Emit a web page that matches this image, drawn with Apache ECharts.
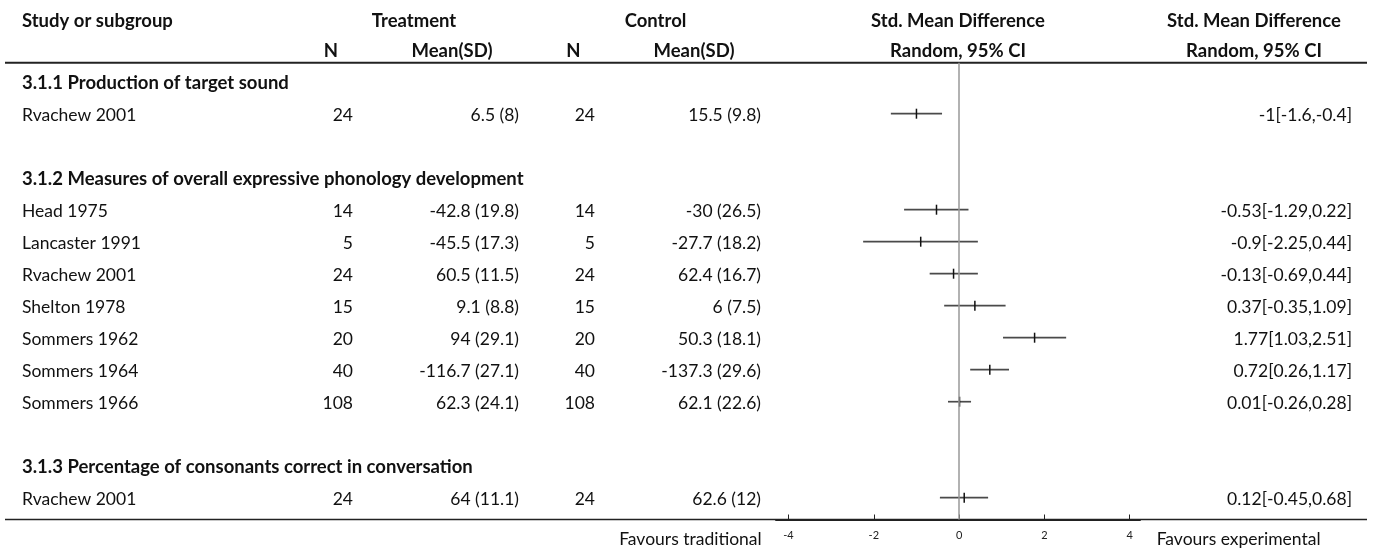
<!DOCTYPE html>
<html>
<head>
<meta charset="utf-8">
<script src="https://cdn.jsdelivr.net/npm/echarts@6/dist/echarts.min.js"></script>
<style>
html,body{margin:0;padding:0;background:#fff;}
#chart{width:1373px;height:550px;}
</style>
</head>
<body>
<div id="chart"></div>
<script>
// ---------- data ----------
const subgroups = [
  "3.1.1 Production of target sound",
  "3.1.2 Measures of overall expressive phonology development",
  "3.1.3 Percentage of consonants correct in conversation"
];
const studies = ["Rvachew 2001","Head 1975","Lancaster 1991","Rvachew 2001","Shelton 1978","Sommers 1962","Sommers 1964","Sommers 1966","Rvachew 2001"];
const subgroupIndex = [0,1,1,1,1,1,1,1,2];
const treatN = [24,14,5,24,15,20,40,108,24];
const treatMean = [6.5,-42.8,-45.5,60.5,9.1,94,-116.7,62.3,64];
const treatSD = [8,19.8,17.3,11.5,8.8,29.1,27.1,24.1,11.1];
const ctrlN = [24,14,5,24,15,20,40,108,24];
const ctrlMean = [15.5,-30,-27.7,62.4,6,50.3,-137.3,62.1,62.6];
const ctrlSD = [9.8,26.5,18.2,16.7,7.5,18.1,29.6,22.6,12];
const smd = [-1,-0.53,-0.9,-0.13,0.37,1.77,0.72,0.01,0.12];
const ciLow = [-1.6,-1.29,-2.25,-0.69,-0.35,1.03,0.26,-0.26,-0.45];
const ciHigh = [-0.4,0.22,0.44,0.44,1.09,2.51,1.17,0.28,0.68];
const xTicks = [-4,-2,0,2,4];
const headerTop = ["Study or subgroup","Treatment","Control","Std. Mean Difference","Std. Mean Difference"];
const headerSub = ["N","Mean(SD)","N","Mean(SD)","Random, 95% CI","Random, 95% CI"];
const favours = ["Favours traditional","Favours experimental"];

// ---------- layout ----------
const FONT = 'Lato';
const FS = 17.5;
const FSB = 18.5;
const TXT = '#111';
const TEXT_DY = 1.5;
const col = {
  study: 22,
  tN: 353, tM: 519, cN: 595, cM: 761, ci: 1352,
  hTN: 331, hTM: 452, hCN: 573.5, hCM: 694, hPlot: 958, hCI: 1254,
  hTreat: 414, hCtrl: 655.5
};
const headerY1 = 21, headerY2 = 51;
const lineTop = 62.7, lineBottom = 519.5;
const gridLeft = 776, gridRight = 1140;

// build table rows from subgroups
const rows = [];
subgroups.forEach((g, gi) => {
  rows.push({type: 'heading', text: g});
  studies.forEach((s, i) => { if (subgroupIndex[i] === gi) rows.push({type: 'study', i: i}); });
  if (gi < subgroups.length - 1) rows.push({type: 'blank'});
});
const rowCenterFirst = 81.7, rowStep = 32;
const yMin = (lineTop - rowCenterFirst) / rowStep;
const yMax = (lineBottom - rowCenterFirst) / rowStep;
const pxPerUnit = (1129.7 - 788.5) / 8;
const xMin = -4 - (788.5 - gridLeft) / pxPerUnit;
const xMax = xMin + (gridRight - gridLeft) / pxPerUnit;

const ciData = [];
rows.forEach((r, k) => {
  if (r.type === 'study') ciData.push([ciLow[r.i], ciHigh[r.i], smd[r.i], k]);
});

function txt(x, y, text, align, bold) {
  return {
    type: 'text',
    style: {
      x: x, y: y, text: text, fill: TXT, align: align, verticalAlign: 'middle',
      font: (bold ? 'bold ' + FSB : FS) + 'px ' + FONT
    }
  };
}

const chart = echarts.init(document.getElementById('chart'), null, {renderer: 'canvas'});
const option = {
  backgroundColor: '#fff',
  animation: false,
  textStyle: {fontFamily: FONT},
  grid: {left: gridLeft, width: gridRight - gridLeft, top: lineTop, height: lineBottom - lineTop},
  xAxis: {
    type: 'value', min: xMin, max: xMax, position: 'bottom',
    axisLine: {show: true, onZero: false, lineStyle: {color: '#222', width: 2}},
    axisTick: {show: true, inside: true, length: 5, customValues: xTicks, lineStyle: {color: '#222', width: 1}},
    axisLabel: {show: true, customValues: xTicks, fontSize: 11, color: '#222', margin: 10, fontFamily: FONT},
    splitLine: {show: false}
  },
  yAxis: {type: 'value', inverse: true, min: yMin, max: yMax, show: false},
  graphic: [
    {type: 'line', shape: {x1: 5, y1: lineTop, x2: 1367, y2: lineTop}, style: {stroke: '#222', lineWidth: 2}, z: 1},
    {type: 'line', shape: {x1: 5, y1: lineBottom, x2: 1367, y2: lineBottom}, style: {stroke: '#222', lineWidth: 1.5}, z: 1},
    txt(col.study, headerY1, headerTop[0], 'left', true),
    txt(col.hTreat, headerY1, headerTop[1], 'center', true),
    txt(col.hCtrl, headerY1, headerTop[2], 'center', true),
    txt(col.hPlot, headerY1, headerTop[3], 'center', true),
    txt(col.hCI, headerY1, headerTop[4], 'center', true),
    txt(col.hTN, headerY2, headerSub[0], 'center', true),
    txt(col.hTM, headerY2, headerSub[1], 'center', true),
    txt(col.hCN, headerY2, headerSub[2], 'center', true),
    txt(col.hCM, headerY2, headerSub[3], 'center', true),
    txt(col.hPlot, headerY2, headerSub[4], 'center', true),
    txt(col.hCI, headerY2, headerSub[5], 'center', true),
    txt(761.7, 539, favours[0], 'right', false),
    txt(1156.7, 539, favours[1], 'left', false)
  ],
  series: [
    {
      type: 'custom',
      clip: false,
      silent: true,
      data: rows.map((r, k) => [0, k]),
      renderItem: function (params, api) {
        const k = api.value(1);
        const y = api.coord([0, k])[1] + TEXT_DY;
        const r = rows[k];
        if (r.type === 'heading') {
          return {type: 'group', children: [txt(col.study, y, r.text, 'left', true)]};
        }
        if (r.type === 'study') {
          const i = r.i;
          return {type: 'group', children: [
            txt(col.study, y, studies[i], 'left', false),
            txt(col.tN, y, String(treatN[i]), 'right', false),
            txt(col.tM, y, treatMean[i] + ' (' + treatSD[i] + ')', 'right', false),
            txt(col.cN, y, String(ctrlN[i]), 'right', false),
            txt(col.cM, y, ctrlMean[i] + ' (' + ctrlSD[i] + ')', 'right', false),
            txt(col.ci, y, smd[i] + '[' + ciLow[i] + ',' + ciHigh[i] + ']', 'right', false)
          ]};
        }
        return {type: 'group', children: []};
      }
    },
    {
      type: 'custom',
      clip: false,
      silent: true,
      data: ciData,
      renderItem: function (params, api) {
        const row = api.value(3);
        const p1 = api.coord([api.value(0), row]);
        const p2 = api.coord([api.value(1), row]);
        const pe = api.coord([api.value(2), row]);
        return {type: 'group', children: [
          {type: 'line', shape: {x1: p1[0], y1: p1[1], x2: p2[0], y2: p2[1]}, style: {stroke: '#4a4a4a', lineWidth: 1.7}},
          {type: 'line', shape: {x1: pe[0], y1: pe[1] - 5, x2: pe[0], y2: pe[1] + 5}, style: {stroke: '#111', lineWidth: 1.5}}
        ]};
      },
      markLine: {
        silent: true, symbol: 'none', animation: false,
        label: {show: false},
        lineStyle: {color: '#999', width: 1.5, type: 'solid'},
        data: [{xAxis: 0}]
      },
      z: 3
    }
  ]
};
chart.setOption(option);
</script>
</body>
</html>
